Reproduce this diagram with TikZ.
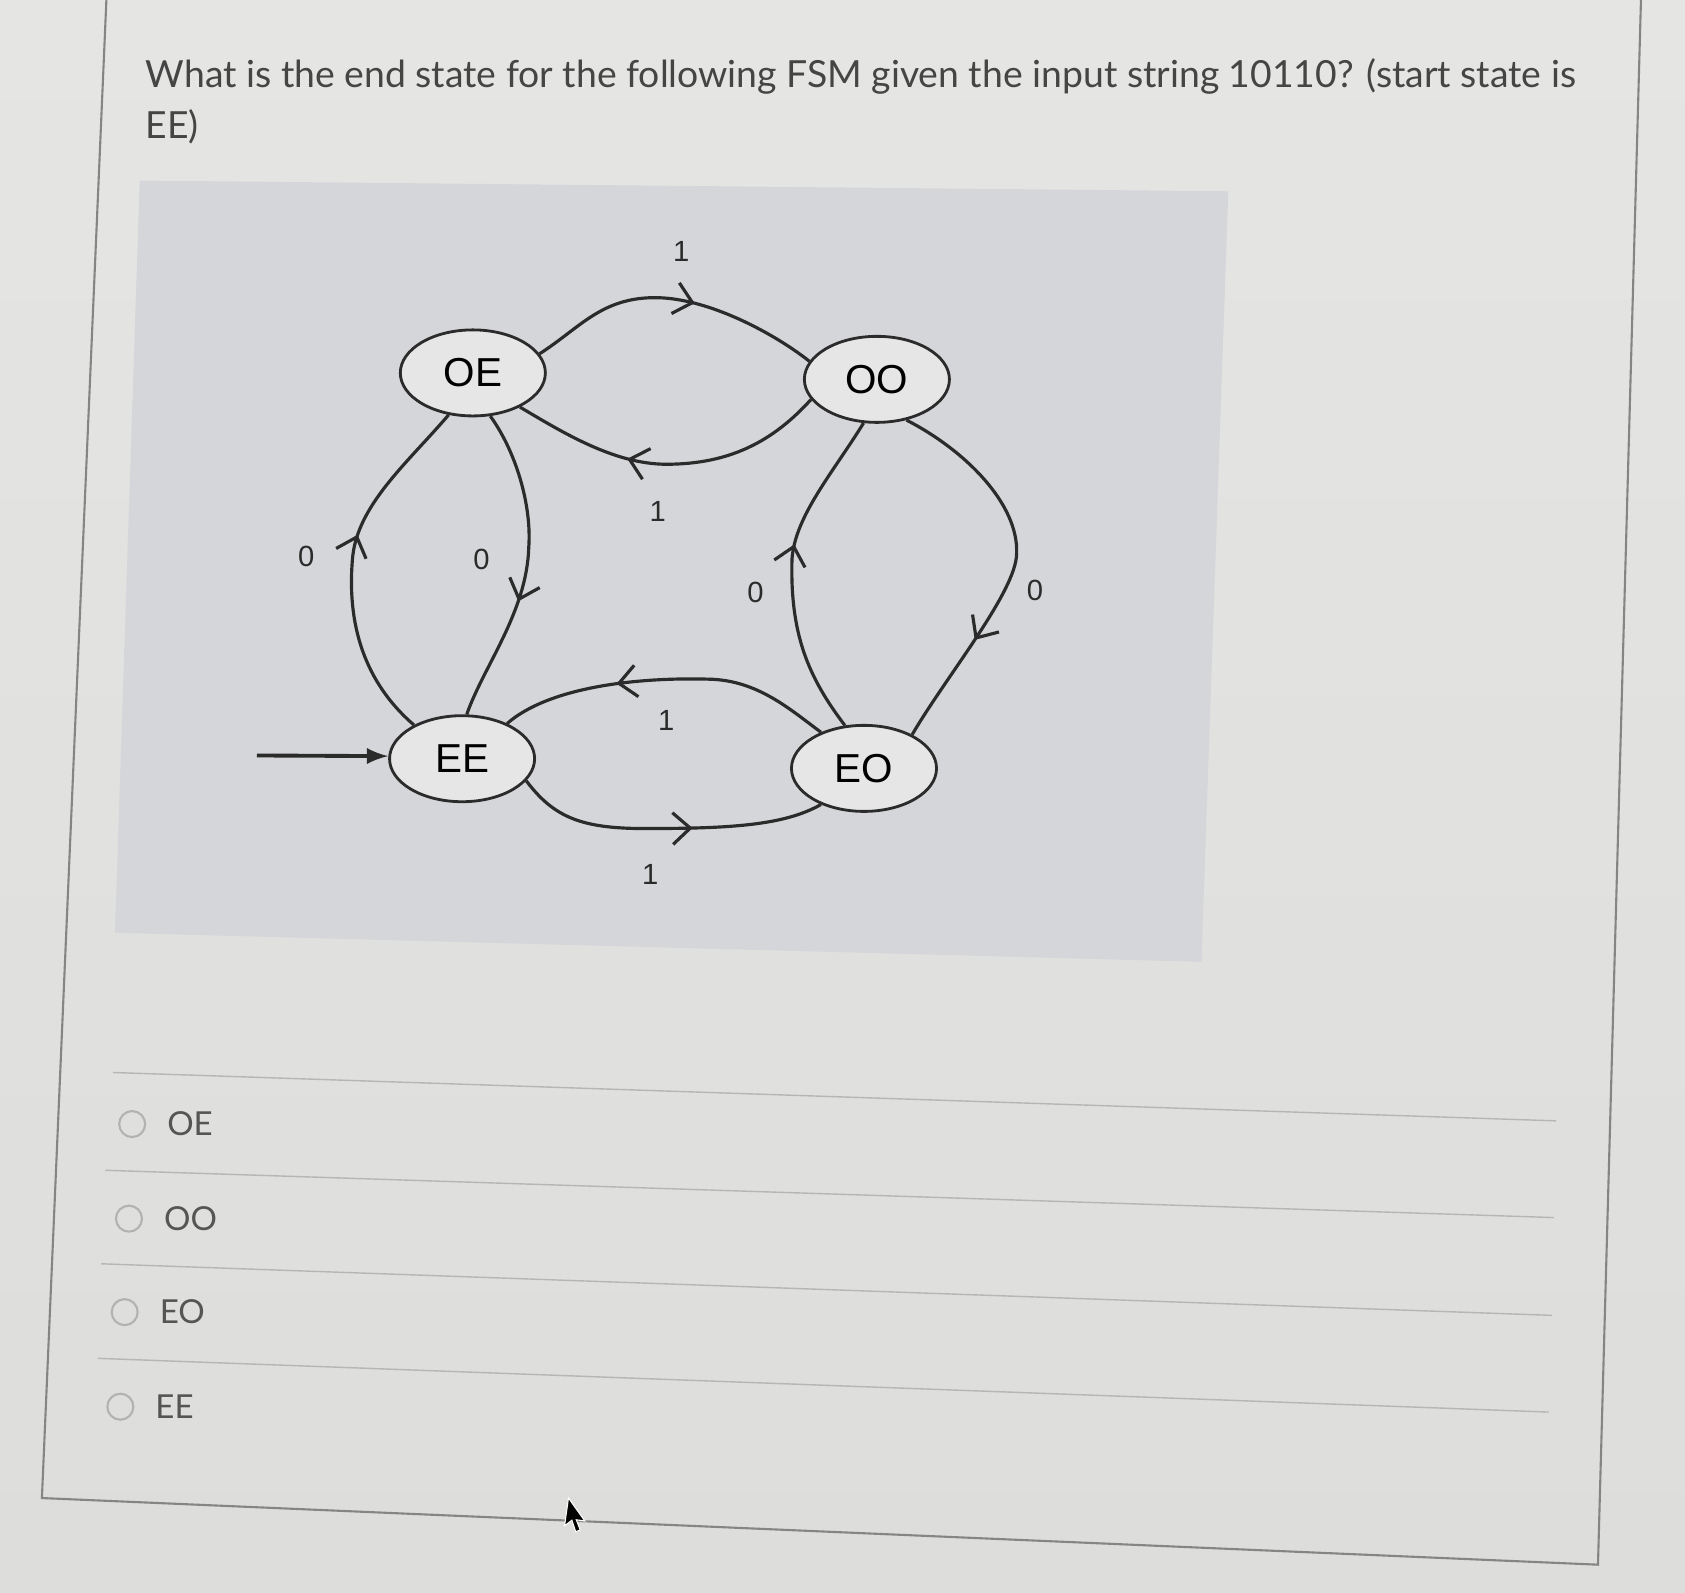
\documentclass[tikz,border=0pt]{standalone}
\usepackage{fontspec}
\setmainfont{Lato}
\newfontfamily\arialfont{Liberation Sans}
\usetikzlibrary{shapes.geometric,arrows.meta,decorations.markings}

\definecolor{pagebg}{HTML}{E5E5E3}
\definecolor{pagebgdark}{HTML}{DDDDDB}
\definecolor{figbg}{HTML}{D5D6D9}
\definecolor{statebg}{HTML}{E6E6E6}
\definecolor{ink}{HTML}{2B2B2B}
\definecolor{qtext}{HTML}{454545}
\definecolor{atext}{HTML}{555555}
\definecolor{frameline}{HTML}{858585}
\definecolor{ruleline}{HTML}{B6B6B6}

\tikzset{>=latex}
\tikzset{mid_arrow/.style={postaction={decorate, decoration={markings,
	mark=at position #1 with {\arrow{Straight Barb[length=5pt,width=9pt,line width=0.9pt]}}}}}}

\begin{document}
\begin{tikzpicture}[x=0.010746cm, y=-0.010746cm]

	\tikzstyle{state_node} = [ellipse, draw=ink, line width=0.8pt, fill=statebg, minimum width=1.45cm, minimum height=0.86cm, inner sep=0pt, font=\arialfont\fontsize{11.5}{13}\selectfont, text=black]
	\tikzstyle{trans_label} = [font=\arialfont\fontsize{8.3}{10}\selectfont, text=ink]
	\tikzstyle{trans_edge} = [draw=ink, line width=0.9pt]
	\tikzstyle{choice_dot} = [circle, draw=gray!60, line width=0.6pt, minimum size=0.26cm, inner sep=0pt]
	\tikzstyle{choice_text} = [font=\fontsize{9.4}{12}\selectfont, text=atext, anchor=west, inner sep=0pt]
	\tikzstyle{question_text} = [font=\fontsize{10.62}{13}\selectfont, text=qtext, anchor=base west, inner sep=0pt]

%------------------------------------------------------------
	\useasboundingbox (0,0) rectangle (1568,1482);
	\shade[top color=pagebg, bottom color=pagebgdark] (0,0) rectangle (1568,1482);
	\fill[figbg] (130,168) -- (1143,178) -- (1118,895) -- (107,868) -- cycle;

	\draw[frameline, line width=0.6pt] (99,0) -- (39,1394) -- (1487,1456) -- (1527,0);

	\node[question_text] (question1) at (135,81) {What is the end state for the following FSM given the input string 10110? (start state is};
	\node[question_text] (question2) at (135,129) {EE)};

%------------------------------------------------------------
	\node[state_node] (OE) at (440,347) {OE};
	\node[state_node] (OO) at (816,353) {OO};
	\node[state_node] (EE) at (430,706) {EE};
	\node[state_node] (EO) at (804,715) {EO};

	\coordinate (start) at (239,703);
	\draw[-latex, line width=1.1pt, ink] (start) -- (EE.178);

%------------------------------------------------------------
	\draw[trans_edge, mid_arrow=0.57] (OE.16) .. controls (540,305) and (560,276) .. (612,277) .. controls (660,278) and (720,310) .. (OO.165);
	\draw[trans_edge, mid_arrow=0.63] (OO.197) .. controls (720,410) and (680,432) .. (620,432) .. controls (570,432) and (520,400) .. (OE.-36);

	\draw[trans_edge, mid_arrow=0.61] (OE.-68) .. controls (480,420) and (495,470) .. (492,510) .. controls (490,570) and (450,620) .. (EE.84);
	\draw[trans_edge, mid_arrow=0.58] (EE.145) .. controls (345,640) and (322,590) .. (328,520) .. controls (332,470) and (380,430) .. (OE.-120);

	\draw[trans_edge, mid_arrow=0.58] (EO.114) .. controls (752,630) and (735,590) .. (737,520) .. controls (740,480) and (775,440) .. (OO.-107);
	\draw[trans_edge, mid_arrow=0.71] (OO.-54) .. controls (900,420) and (948,470) .. (946,515) .. controls (946,550) and (880,630) .. (EO.35);

	\draw[trans_edge, mid_arrow=0.65] (EO.140) .. controls (735,660) and (705,633) .. (660,632) .. controls (590,630) and (510,640) .. (EE.38);
	\draw[trans_edge, mid_arrow=0.58] (EE.-19) .. controls (515,760) and (540,771) .. (600,771) .. controls (680,771) and (730,768) .. (EO.220);

%------------------------------------------------------------
	\node[trans_label] (l_oe_oo) at (634,234) {1};
	\node[trans_label] (l_oo_oe) at (612,476) {1};
	\node[trans_label] (l_ee_oe) at (285,518) {0};
	\node[trans_label] (l_oe_ee) at (448,521) {0};
	\node[trans_label] (l_eo_oo) at (703,551) {0};
	\node[trans_label] (l_oo_eo) at (963,549) {0};
	\node[trans_label] (l_eo_ee) at (620,670) {1};
	\node[trans_label] (l_ee_eo) at (605,814) {1};

%------------------------------------------------------------
	\draw[ruleline, line width=0.4pt] (105,998) -- (1448,1043);
	\draw[ruleline, line width=0.4pt] (98,1089) -- (1446,1133);
	\draw[ruleline, line width=0.4pt] (94,1176) -- (1444,1224);
	\draw[ruleline, line width=0.4pt] (91,1264) -- (1441,1314);

	\node[choice_dot] (c1) at (123,1046) {};
	\node[choice_text] (t1) at (155,1046) {OE};
	\node[choice_dot] (c2) at (120,1134) {};
	\node[choice_text] (t2) at (152,1134) {OO};
	\node[choice_dot] (c3) at (116,1221) {};
	\node[choice_text] (t3) at (148,1221) {EO};
	\node[choice_dot] (c4) at (112,1309) {};
	\node[choice_text] (t4) at (144,1309) {EE};

	% mouse pointer
	\fill[black, draw=white, line width=0.3pt, shift={(529,1394)}, rotate=-8] (0,0) -- (0,26) -- (6,20) -- (11,30) -- (15,28) -- (10,19) -- (18,19) -- cycle;

\end{tikzpicture}
\end{document}
